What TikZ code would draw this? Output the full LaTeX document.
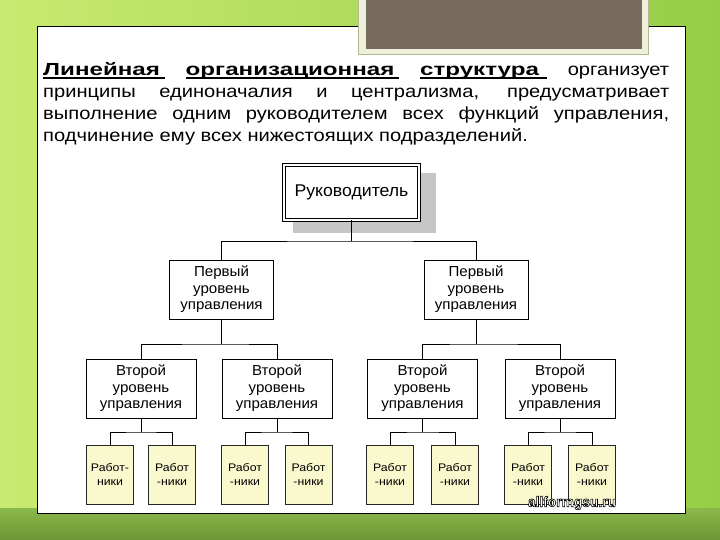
\documentclass[tikz,border=0pt]{standalone}
\usepackage{fontspec}
\setmainfont{Liberation Sans}
\newfontfamily\parafont[FakeStretch=1.15]{Liberation Sans}
\newfontfamily\parabold[FakeStretch=1.38]{Liberation Sans}
\newfontfamily\boxfont[FakeStretch=1.04]{Liberation Sans}
\newfontfamily\smallfont[FakeStretch=1.12]{Liberation Sans}
\newfontfamily\wmfont[FakeBold=4, FakeStretch=0.95]{Liberation Sans Bold}
\usetikzlibrary{calc}
\definecolor{bgL}{RGB}{200,234,112}
\definecolor{bgR}{RGB}{150,206,70}
\definecolor{bandT}{RGB}{138,184,74}
\definecolor{bandB}{RGB}{108,150,52}
\definecolor{darkbox}{RGB}{118,107,93}
\definecolor{framecol}{RGB}{238,240,218}
\definecolor{frameedge}{RGB}{180,182,150}
\definecolor{workerfill}{RGB}{250,249,206}
\definecolor{shadowgray}{RGB}{198,198,198}
\newcommand{\myul}[1]{\setbox0\hbox{#1}\rlap{\rule[-3pt]{\wd0}{1.7pt}}\box0}
\newcommand{\outlinedtext}[1]{\color{white}\special{pdf:code 0 0 0 RG}#1}
\tikzset{
  lvlbox/.style={draw=black, line width=0.8pt, fill=white, minimum height=59pt,
    inner sep=1pt, align=center, font=\boxfont\fontsize{14.5}{16.5}\selectfont},
  lvlone/.style={lvlbox, minimum width=104pt},
  lvltwo/.style={lvlbox, minimum width=110pt},
  workerbox/.style={draw=black!85, line width=0.7pt, fill=workerfill, minimum width=47pt,
    minimum height=59pt, inner sep=1pt, align=center,
    font=\smallfont\fontsize{11}{13.5}\selectfont},
  topbox/.style={draw=black, line width=0.9pt, double=white, double distance=1.8pt, fill=white,
    minimum width=135pt, minimum height=55pt, font=\boxfont\fontsize{17}{20}\selectfont},
  conn/.style={draw=black, line width=0.8pt},
  paraline/.style={anchor=base west, inner sep=0pt, font=\parafont\fontsize{17.5}{21}\selectfont}
}
\begin{document}
\begin{tikzpicture}[x=1pt,y=-1pt]
\useasboundingbox (0,0) rectangle (720,540);
% background
\shade[left color=bgL, right color=bgR] (0,0) rectangle (720,540);
\shade[top color=bandT, bottom color=bandB] (0,508) rectangle (720,540);
% panel
\draw[line width=1pt, fill=white] (37,27) rectangle (685,513);
% dark picture frame at top
\draw[fill=framecol, draw=frameedge, line width=0.6pt] (358,-2) rectangle (648,54);
\fill[darkbox] (366,-2) rectangle (642,49);
% paragraph
\node[paraline] (l1) at (43,76) {\makebox[626pt][s]{\myul{\parabold\bfseries Линейная\hspace{5pt}}\ \myul{\parabold\bfseries организационная\hspace{5pt}}\ \myul{\parabold\bfseries структура\hspace{8pt}}\ организует}};
\node[paraline] (l2) at (43,98) {\makebox[626pt][s]{принципы единоначалия и централизма, предусматривает}};
\node[paraline] (l3) at (43,120) {\makebox[626pt][s]{выполнение одним руководителем всех функций управления,}};
\node[paraline] (l4) at (43,142) {подчинение ему всех нижестоящих подразделений.};
% top box with shadow
\fill[shadowgray] (293,173) rectangle (436,233);
\node[topbox] (top) at (351.5,192.5) {Руководитель};
% first level
\node[lvlone] (f1) at (221.5,289.5) {Первый\\уровень\\управления};
\node[lvlone] (f2) at (476,289.5) {Первый\\уровень\\управления};
% second level
\node[lvltwo] (s1) at (141,388.5) {Второй\\уровень\\управления};
\node[lvltwo] (s2) at (277,388.5) {Второй\\уровень\\управления};
\node[lvltwo] (s3) at (422.5,388.5) {Второй\\уровень\\управления};
\node[lvltwo] (s4) at (560,388.5) {Второй\\уровень\\управления};
% workers
\node[workerbox] (w1) at (110,474.5) {Работ-\\ники};
\node[workerbox] (w2) at (172,474.5) {Работ\\-ники};
\node[workerbox] (w3) at (245,474.5) {Работ\\-ники};
\node[workerbox] (w4) at (308.5,474.5) {Работ\\-ники};
\node[workerbox] (w5) at (390,474.5) {Работ\\-ники};
\node[workerbox] (w6) at (455,474.5) {Работ\\-ники};
\node[workerbox] (w7) at (528,474.5) {Работ\\-ники};
\node[workerbox] (w8) at (592,474.5) {Работ\\-ники};
% junctions
\coordinate (j0) at (351.5,241);
\coordinate (j1) at (221.5,344);
\coordinate (j2) at (476,344);
\coordinate (k1) at (141,432);
\coordinate (k2) at (277,432);
\coordinate (k3) at (422.5,432);
\coordinate (k4) at (560,432);
% connectors
\draw[conn, line width=1.6pt] (top.south) -- (j0);
\draw[conn] (f1.north) |- (j0) -| (f2.north);
\draw[conn] (f1.south) -- (j1);
\draw[conn] (f2.south) -- (j2);
\draw[conn] (s1.north) |- (j1) -| (s2.north);
\draw[conn] (s3.north) |- (j2) -| (s4.north);
\draw[conn] (s1.south) -- (k1);
\draw[conn] (s2.south) -- (k2);
\draw[conn] (s3.south) -- (k3);
\draw[conn] (s4.south) -- (k4);
\draw[conn] (w1.north) |- (k1) -| (w2.north);
\draw[conn] (w3.north) |- (k2) -| (w4.north);
\draw[conn] (w5.north) |- (k3) -| (w6.north);
\draw[conn] (w7.north) |- (k4) -| (w8.north);
% watermark
\node[inner sep=0pt, font=\wmfont\fontsize{14.5}{14.5}\selectfont] (wm) at (572,503) {\outlinedtext{allformgsu.ru}};
\end{tikzpicture}
\end{document}
